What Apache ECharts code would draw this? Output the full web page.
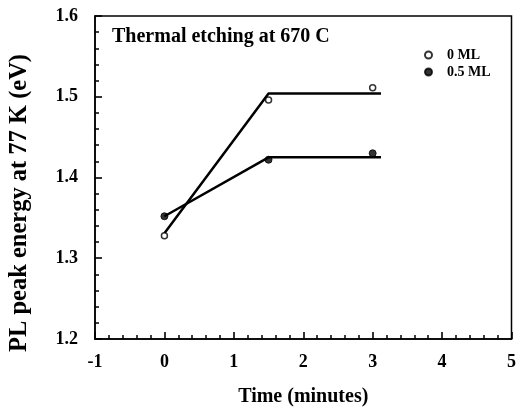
<!DOCTYPE html>
<html>
<head>
<meta charset="utf-8">
<script src="https://cdn.jsdelivr.net/npm/echarts@6/dist/echarts.min.js"></script>
<style>html,body{margin:0;padding:0;background:#fff;}#c{width:519px;height:412px;}</style>
</head>
<body>
<div id="c"></div>
<script>
var times = [0, 1.5, 3];
var ml0 = [1.328, 1.496, 1.511];
var ml05 = [1.352, 1.422, 1.430];
var fitTimes = [0, 1.5, 3.12];
var fit0 = [1.331, 1.504, 1.504];
var fit05 = [1.352, 1.425, 1.425];
var seriesNames = ['0 ML', '0.5 ML'];
var chartTitle = 'Thermal etching at 670 C';
var xTitle = 'Time (minutes)';
var yTitle = 'PL peak energy at 77 K (eV)';

function pairs(xs, ys){ return xs.map(function(x,i){ return [x, ys[i]]; }); }
var FONT = '"Liberation Serif", "Times New Roman", serif';
var chart = echarts.init(document.getElementById('c'), null, {renderer:'canvas'});
var axisCommon = {
  axisLine:{show:true, onZero:false, lineStyle:{color:'#000', width:1.5}},
  axisTick:{show:true, inside:true, length:7, lineStyle:{color:'#000', width:1.6}},
  minorTick:{show:true, splitNumber:5, length:4, lineStyle:{color:'#000', width:1.5}},
  splitLine:{show:false},
  axisLabel:{color:'#000', fontFamily:FONT, fontWeight:'bold', fontSize:18}
};
chart.setOption({
  animation:false,
  backgroundColor:'#fff',
  title:{text:chartTitle, left:107, top:22, textStyle:{fontFamily:FONT, fontWeight:'bold', fontSize:20, color:'#000'}},
  grid:{left:95, right:6, top:16, bottom:69, show:true, borderColor:'#000', borderWidth:1.5, containLabel:false},
  legend:{data:seriesNames, orient:'vertical', left:419, top:43, itemWidth:7, itemHeight:7, itemGap:3,
    textStyle:{fontFamily:FONT, fontWeight:'bold', fontSize:14, color:'#000', padding:[0,0,0,10]}},
  xAxis:Object.assign({type:'value', min:-1, max:5, interval:1,
    name:xTitle, nameLocation:'middle', nameGap:48,
    nameTextStyle:{fontFamily:FONT, fontWeight:'bold', fontSize:20, color:'#000'}}, axisCommon,
    {axisLabel:Object.assign({}, axisCommon.axisLabel, {margin:14})}),
  yAxis:Object.assign({type:'value', min:1.2, max:1.6, interval:0.1}, axisCommon,
    {axisLabel:Object.assign({}, axisCommon.axisLabel, {margin:17, formatter:function(v){return v.toFixed(1);}})}),
  graphic:[{type:'text', x:20, y:203, rotation:Math.PI/2,
    style:{text:yTitle, fontFamily:FONT, fontWeight:'bold', fontSize:24.5, fill:'#000', textAlign:'center', textVerticalAlign:'middle'}}],
  series:[
    {name:'fit0', type:'line', data:pairs(fitTimes, fit0), symbol:'none', lineStyle:{color:'#000', width:2.5}, z:2},
    {name:'fit05', type:'line', data:pairs(fitTimes, fit05), symbol:'none', lineStyle:{color:'#000', width:2.5}, z:2},
    {name:seriesNames[0], type:'scatter', data:pairs(times, ml0), symbol:'circle', symbolSize:6,
      itemStyle:{color:'#fff', borderColor:'#000', borderWidth:1.5}, z:3},
    {name:seriesNames[1], type:'scatter', data:pairs(times, ml05), symbol:'circle', symbolSize:7,
      itemStyle:{color:'#000', borderColor:'#000', borderWidth:1}, z:3}
  ]
});
</script>
</body>
</html>
